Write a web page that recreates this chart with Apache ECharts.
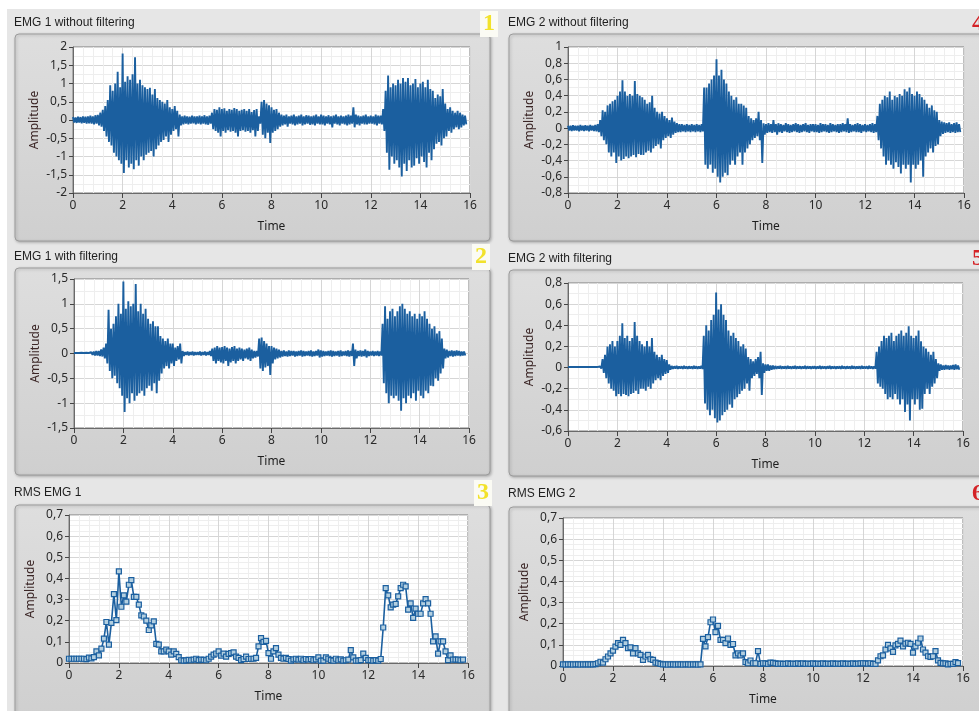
<!DOCTYPE html>
<html>
<head>
<meta charset="utf-8">
<script src="https://cdn.jsdelivr.net/npm/echarts@6/dist/echarts.min.js"></script>
<style>
html,body{margin:0;padding:0;background:#fff;}
#c{width:979px;height:711px;}
</style>
</head>
<body>
<div id="c"></div>
<script>
// ---- Data (sampled every 0.1 s, t = 0 .. 15.8 s) ----
const SAMPLE_STEP = 0.1;
const xTicks = [0, 2, 4, 6, 8, 10, 12, 14, 16];

// EMG 1 without filtering: upper / lower envelope of the raw trace
const emg1RawHi = [
 0.08,0.07,0.09,0.08,0.1,0.09,0.1,0.12,0.1,0.13,
 0.14,0.2,0.28,0.38,0.55,0.95,0.8,1.0,1.32,0.9,
 1.82,1.05,1.2,1.1,1.25,1.72,1.0,1.1,0.95,0.9,
 0.85,0.88,0.7,0.85,0.6,0.55,0.5,0.45,0.55,0.35,
 0.3,0.38,0.25,0.15,0.1,0.12,0.1,0.09,0.12,0.1,
 0.1,0.12,0.1,0.13,0.1,0.12,0.2,0.3,0.28,0.35,
 0.3,0.32,0.25,0.3,0.28,0.33,0.3,0.25,0.28,0.3,
 0.25,0.3,0.22,0.27,0.3,0.1,0.5,0.55,0.45,0.4,
 0.35,0.28,0.3,0.2,0.15,0.12,0.15,0.1,0.12,0.15,
 0.1,0.12,0.15,0.1,0.13,0.12,0.1,0.12,0.15,0.1,
 0.15,0.12,0.1,0.13,0.1,0.12,0.15,0.1,0.12,0.1,
 0.12,0.15,0.12,0.35,0.15,0.12,0.1,0.12,0.15,0.1,
 0.12,0.1,0.15,0.12,0.12,0.3,0.8,1.22,0.9,1.0,
 0.95,1.1,1.0,1.15,1.05,1.15,0.95,1.0,1.12,0.9,
 1.0,1.05,0.9,1.1,0.85,0.8,0.6,0.7,0.65,0.85,
 0.45,0.3,0.35,0.25,0.2,0.25,0.2,0.15,0.12];
const emg1RawLo = [
 -0.07,-0.08,-0.07,-0.09,-0.08,-0.1,-0.09,-0.1,-0.12,-0.1,
 -0.15,-0.18,-0.3,-0.45,-0.6,-0.7,-0.9,-1.0,-1.1,-1.2,
 -1.45,-1.1,-1.3,-1.2,-1.35,-1.1,-1.25,-1.0,-1.1,-0.95,
 -0.9,-0.85,-1.0,-0.8,-0.7,-0.6,-0.55,-0.45,-0.6,-0.4,
 -0.3,-0.25,-0.45,-0.15,-0.12,-0.1,-0.12,-0.1,-0.09,-0.12,
 -0.1,-0.12,-0.1,-0.12,-0.13,-0.1,-0.25,-0.3,-0.35,-0.45,
 -0.3,-0.35,-0.28,-0.32,-0.3,-0.35,-0.45,-0.3,-0.28,-0.32,
 -0.3,-0.35,-0.28,-0.45,-0.3,-0.1,-0.4,-0.5,-0.35,-0.63,
 -0.35,-0.3,-0.25,-0.18,-0.15,-0.12,-0.18,-0.1,-0.12,-0.15,
 -0.12,-0.1,-0.15,-0.12,-0.1,-0.13,-0.12,-0.15,-0.1,-0.12,
 -0.12,-0.15,-0.1,-0.12,-0.2,-0.1,-0.12,-0.15,-0.1,-0.12,
 -0.15,-0.12,-0.1,-0.2,-0.12,-0.15,-0.1,-0.12,-0.12,-0.1,
 -0.1,-0.12,-0.15,-0.1,-0.12,-0.3,-0.9,-1.36,-1.0,-1.2,
 -1.1,-1.3,-1.55,-1.2,-1.4,-1.1,-1.3,-1.25,-1.05,-1.2,
 -1.0,-1.15,-1.3,-0.9,-1.1,-0.8,-0.65,-0.6,-0.7,-0.5,
 -0.45,-0.3,-0.35,-0.25,-0.2,-0.25,-0.2,-0.15,-0.12];

// EMG 2 without filtering
const emg2RawHi = [
 0.03,0.03,0.035,0.03,0.03,0.04,0.03,0.035,0.03,0.04,
 0.03,0.04,0.05,0.1,0.22,0.2,0.28,0.3,0.33,0.35,
 0.4,0.45,0.59,0.45,0.4,0.42,0.4,0.58,0.42,0.4,
 0.38,0.35,0.3,0.32,0.4,0.25,0.2,0.18,0.2,0.15,
 0.12,0.1,0.13,0.08,0.06,0.05,0.05,0.04,0.05,0.04,
 0.05,0.04,0.05,0.04,0.05,0.5,0.5,0.55,0.6,0.65,
 0.85,0.65,0.72,0.6,0.55,0.45,0.4,0.35,0.38,0.3,
 0.3,0.28,0.25,0.15,0.12,0.1,0.12,0.2,0.1,0.06,
 0.05,0.06,0.05,0.1,0.05,0.06,0.05,0.04,0.06,0.05,
 0.04,0.05,0.06,0.05,0.04,0.05,0.06,0.04,0.05,0.05,
 0.05,0.04,0.06,0.05,0.05,0.04,0.06,0.05,0.04,0.05,
 0.05,0.06,0.05,0.12,0.05,0.04,0.05,0.06,0.05,0.04,
 0.05,0.04,0.05,0.06,0.05,0.15,0.3,0.35,0.4,0.38,
 0.45,0.35,0.4,0.38,0.42,0.4,0.48,0.45,0.5,0.42,
 0.4,0.45,0.42,0.38,0.35,0.3,0.25,0.28,0.22,0.2,
 0.1,0.08,0.07,0.06,0.07,0.05,0.06,0.07,0.05];
const emg2RawLo = [
 -0.03,-0.035,-0.03,-0.03,-0.04,-0.03,-0.035,-0.03,-0.04,-0.03,
 -0.035,-0.04,-0.05,-0.1,-0.15,-0.2,-0.3,-0.35,-0.3,-0.43,
 -0.35,-0.4,-0.38,-0.35,-0.37,-0.35,-0.33,-0.36,-0.32,-0.33,
 -0.33,-0.3,-0.28,-0.3,-0.25,-0.22,-0.2,-0.25,-0.15,-0.12,
 -0.1,-0.12,-0.08,-0.06,-0.05,-0.05,-0.04,-0.05,-0.04,-0.05,
 -0.04,-0.05,-0.04,-0.05,-0.04,-0.45,-0.5,-0.45,-0.55,-0.5,
 -0.6,-0.67,-0.6,-0.55,-0.58,-0.45,-0.4,-0.45,-0.35,-0.3,
 -0.45,-0.3,-0.25,-0.2,-0.15,-0.12,-0.1,-0.15,-0.43,-0.08,
 -0.06,-0.05,-0.06,-0.05,-0.08,-0.05,-0.06,-0.04,-0.05,-0.06,
 -0.05,-0.04,-0.05,-0.06,-0.05,-0.04,-0.05,-0.06,-0.04,-0.05,
 -0.05,-0.06,-0.05,-0.04,-0.05,-0.06,-0.05,-0.04,-0.05,-0.06,
 -0.05,-0.04,-0.05,-0.06,-0.05,-0.04,-0.05,-0.05,-0.06,-0.04,
 -0.05,-0.04,-0.05,-0.06,-0.05,-0.15,-0.25,-0.35,-0.45,-0.4,
 -0.45,-0.5,-0.42,-0.48,-0.56,-0.45,-0.5,-0.45,-0.67,-0.45,
 -0.5,-0.45,-0.4,-0.6,-0.35,-0.3,-0.25,-0.3,-0.22,-0.2,
 -0.1,-0.07,-0.06,-0.05,-0.06,-0.05,-0.06,-0.05,-0.05];

// EMG 1 with filtering
const emg1FiltHi = [
 0.01,0.01,0.01,0.015,0.01,0.015,0.01,0.03,0.04,0.05,
 0.05,0.08,0.12,0.2,0.88,0.5,0.6,0.75,1.0,0.8,
 1.45,0.9,1.05,0.95,1.0,1.4,0.85,1.0,0.8,0.9,
 0.7,0.6,0.65,0.55,0.55,0.35,0.3,0.25,0.3,0.2,
 0.2,0.12,0.15,0.2,0.05,0.03,0.04,0.03,0.04,0.03,
 0.03,0.04,0.03,0.04,0.03,0.05,0.1,0.12,0.15,0.12,
 0.13,0.15,0.12,0.1,0.13,0.15,0.1,0.12,0.1,0.08,
 0.1,0.12,0.08,0.05,0.05,0.3,0.32,0.25,0.2,0.15,
 0.15,0.12,0.1,0.08,0.05,0.06,0.04,0.06,0.05,0.05,
 0.04,0.05,0.06,0.05,0.04,0.05,0.06,0.04,0.05,0.08,
 0.06,0.05,0.04,0.05,0.06,0.05,0.04,0.05,0.06,0.04,
 0.05,0.06,0.05,0.2,0.08,0.05,0.06,0.05,0.08,0.05,
 0.04,0.05,0.04,0.05,0.04,0.6,0.95,0.7,0.85,0.9,
 0.75,0.85,0.95,1.0,0.9,0.8,0.85,0.75,0.8,0.7,
 0.8,0.75,0.85,0.7,0.6,0.5,0.55,0.4,0.45,0.3,
 0.1,0.08,0.05,0.06,0.05,0.06,0.05,0.04,0.04];
const emg1FiltLo = [
 -0.01,-0.01,-0.015,-0.01,-0.01,-0.01,-0.015,-0.03,-0.04,-0.04,
 -0.05,-0.06,-0.1,-0.2,-0.35,-0.5,-0.45,-0.6,-0.7,-0.85,
 -1.18,-0.9,-1.0,-0.8,-0.95,-0.85,-0.8,-0.75,-0.85,-0.7,
 -0.65,-0.75,-0.6,-0.8,-0.55,-0.4,-0.3,-0.25,-0.3,-0.2,
 -0.25,-0.15,-0.12,-0.2,-0.05,-0.03,-0.04,-0.03,-0.04,-0.03,
 -0.03,-0.04,-0.03,-0.04,-0.03,-0.05,-0.15,-0.2,-0.15,-0.18,
 -0.2,-0.15,-0.25,-0.18,-0.15,-0.2,-0.15,-0.12,-0.15,-0.1,
 -0.12,-0.15,-0.1,-0.08,-0.06,-0.3,-0.35,-0.28,-0.25,-0.43,
 -0.2,-0.12,-0.1,-0.08,-0.06,-0.05,-0.06,-0.05,-0.04,-0.06,
 -0.05,-0.04,-0.06,-0.05,-0.04,-0.05,-0.06,-0.05,-0.04,-0.08,
 -0.06,-0.05,-0.04,-0.05,-0.06,-0.05,-0.04,-0.06,-0.05,-0.04,
 -0.05,-0.06,-0.05,-0.25,-0.1,-0.05,-0.06,-0.05,-0.08,-0.05,
 -0.04,-0.05,-0.04,-0.05,-0.04,-0.6,-0.8,-1.0,-0.85,-0.9,
 -0.85,-0.95,-1.15,-0.9,-1.0,-0.85,-0.9,-0.8,-0.95,-0.75,
 -0.85,-0.9,-0.75,-0.8,-0.65,-0.66,-0.5,-0.55,-0.4,-0.3,
 -0.1,-0.08,-0.05,-0.06,-0.05,-0.04,-0.05,-0.04,-0.04];

// EMG 2 with filtering
const emg2FiltHi = [
 0.005,0.006,0.005,0.005,0.006,0.005,0.005,0.006,0.005,0.005,
 0.005,0.006,0.006,0.01,0.08,0.12,0.2,0.22,0.25,0.2,
 0.25,0.3,0.42,0.28,0.3,0.25,0.28,0.43,0.3,0.25,
 0.22,0.2,0.25,0.2,0.28,0.15,0.12,0.1,0.12,0.08,
 0.07,0.03,0.015,0.012,0.015,0.01,0.012,0.015,0.01,0.012,
 0.01,0.015,0.012,0.01,0.015,0.3,0.4,0.35,0.45,0.5,
 0.71,0.55,0.6,0.5,0.45,0.35,0.3,0.33,0.28,0.25,
 0.2,0.22,0.18,0.1,0.08,0.06,0.08,0.1,0.15,0.04,
 0.03,0.03,0.02,0.02,0.015,0.012,0.015,0.01,0.012,0.015,
 0.01,0.012,0.015,0.01,0.012,0.01,0.015,0.012,0.01,0.012,
 0.012,0.01,0.015,0.012,0.01,0.012,0.015,0.01,0.012,0.01,
 0.012,0.015,0.01,0.012,0.01,0.015,0.012,0.01,0.012,0.015,
 0.01,0.012,0.015,0.01,0.012,0.15,0.2,0.25,0.3,0.28,
 0.3,0.33,0.25,0.3,0.32,0.35,0.3,0.33,0.39,0.3,
 0.28,0.3,0.35,0.25,0.2,0.18,0.15,0.12,0.15,0.08,
 0.04,0.03,0.02,0.025,0.02,0.02,0.025,0.03,0.02];
const emg2FiltLo = [
 -0.005,-0.005,-0.006,-0.005,-0.005,-0.006,-0.005,-0.005,-0.006,-0.005,
 -0.005,-0.006,-0.005,-0.01,-0.05,-0.1,-0.15,-0.2,-0.22,-0.27,
 -0.25,-0.27,-0.25,-0.26,-0.27,-0.25,-0.24,-0.22,-0.25,-0.2,
 -0.2,-0.22,-0.18,-0.2,-0.15,-0.12,-0.1,-0.12,-0.08,-0.06,
 -0.05,-0.02,-0.012,-0.01,-0.012,-0.01,-0.012,-0.01,-0.012,-0.01,
 -0.012,-0.01,-0.012,-0.01,-0.012,-0.34,-0.4,-0.45,-0.4,-0.48,
 -0.52,-0.5,-0.45,-0.42,-0.4,-0.35,-0.38,-0.3,-0.28,-0.25,
 -0.22,-0.2,-0.15,-0.22,-0.1,-0.08,-0.06,-0.1,-0.26,-0.05,
 -0.03,-0.03,-0.02,-0.015,-0.012,-0.01,-0.012,-0.01,-0.012,-0.01,
 -0.012,-0.01,-0.012,-0.01,-0.012,-0.01,-0.012,-0.01,-0.012,-0.01,
 -0.012,-0.01,-0.012,-0.01,-0.012,-0.01,-0.012,-0.01,-0.012,-0.01,
 -0.012,-0.01,-0.012,-0.01,-0.012,-0.01,-0.012,-0.01,-0.012,-0.01,
 -0.01,-0.012,-0.01,-0.012,-0.01,-0.15,-0.18,-0.2,-0.25,-0.3,
 -0.28,-0.3,-0.25,-0.3,-0.35,-0.3,-0.42,-0.35,-0.5,-0.3,
 -0.35,-0.3,-0.4,-0.39,-0.25,-0.2,-0.25,-0.18,-0.15,-0.1,
 -0.03,-0.02,-0.02,-0.015,-0.02,-0.015,-0.02,-0.015,-0.02];

// RMS EMG 1
const rms1 = [
 0.02,0.02,0.02,0.02,0.02,0.02,0.02,0.018,0.025,0.022,
 0.028,0.055,0.036,0.068,0.115,0.194,0.087,0.19,0.326,0.203,
 0.433,0.266,0.32,0.29,0.37,0.392,0.313,0.313,0.276,0.225,
 0.22,0.2,0.156,0.178,0.197,0.09,0.087,0.055,0.055,0.063,
 0.055,0.04,0.055,0.043,0.028,0.013,0.011,0.012,0.015,0.013,
 0.016,0.02,0.014,0.016,0.015,0.013,0.02,0.03,0.04,0.045,
 0.055,0.035,0.044,0.03,0.043,0.047,0.05,0.03,0.024,0.014,
 0.019,0.03,0.019,0.02,0.02,0.024,0.079,0.118,0.1,0.105,
 0.047,0.02,0.055,0.07,0.04,0.024,0.02,0.024,0.019,0.011,
 0.017,0.02,0.016,0.02,0.013,0.019,0.016,0.019,0.013,0.017,
 0.027,0.011,0.011,0.027,0.02,0.014,0.011,0.02,0.013,0.017,
 0.011,0.013,0.016,0.061,0.027,0.011,0.011,0.014,0.044,0.024,
 0.014,0.014,0.011,0.014,0.011,0.019,0.168,0.354,0.32,0.263,
 0.276,0.28,0.315,0.354,0.37,0.362,0.252,0.282,0.213,0.257,
 0.233,0.233,0.282,0.302,0.282,0.233,0.102,0.126,0.044,0.102,
 0.102,0.055,0.014,0.036,0.016,0.016,0.016,0.013,0.016];

// RMS EMG 2
const rms2 = [
 0.008,0.007,0.008,0.008,0.007,0.008,0.008,0.007,0.008,0.008,
 0.008,0.008,0.008,0.009,0.013,0.02,0.016,0.032,0.045,0.06,
 0.073,0.092,0.108,0.1,0.124,0.108,0.085,0.088,0.06,0.085,
 0.06,0.053,0.029,0.045,0.053,0.032,0.029,0.016,0.013,0.01,
 0.008,0.008,0.007,0.008,0.008,0.007,0.008,0.008,0.007,0.008,
 0.008,0.007,0.008,0.008,0.007,0.008,0.128,0.093,0.137,0.207,
 0.22,0.16,0.19,0.124,0.124,0.108,0.13,0.1,0.104,0.05,
 0.06,0.05,0.06,0.018,0.013,0.026,0.013,0.013,0.07,0.01,
 0.013,0.012,0.01,0.016,0.015,0.012,0.01,0.011,0.01,0.01,
 0.012,0.01,0.011,0.01,0.012,0.01,0.012,0.01,0.011,0.01,
 0.012,0.01,0.011,0.01,0.012,0.01,0.011,0.01,0.012,0.01,
 0.011,0.01,0.012,0.01,0.011,0.01,0.012,0.01,0.011,0.012,
 0.013,0.012,0.011,0.013,0.01,0.01,0.027,0.046,0.05,0.078,
 0.1,0.083,0.067,0.098,0.105,0.12,0.093,0.106,0.11,0.105,
 0.063,0.093,0.11,0.13,0.078,0.063,0.046,0.043,0.046,0.07,
 0.027,0.015,0.012,0.012,0.008,0.01,0.01,0.018,0.014];

// ---- Build series data ----
function tAt(i) { return Math.round(i * SAMPLE_STEP * 100) / 100; }
function zigzag(hi, lo) {
  const n = Math.min(hi.length, lo.length), out = [];
  for (let i = 0; i < n; i++) {
    out.push([tAt(i), hi[i]]);
    out.push([Math.round((i * SAMPLE_STEP + SAMPLE_STEP / 2) * 100) / 100, lo[i]]);
  }
  return out;
}
function points(v) { return v.map((y, i) => [tAt(i), y]); }

const BLUE = '#1b5f9f';
const FONT = 'Noto Sans';
const panels = [
  { title: 'EMG 1 without filtering', grid: {left: 73, top: 47, width: 397, height: 146}, y: [-2, 2, 0.5], ySplit: 2, data: zigzag(emg1RawHi, emg1RawLo), rms: false },
  { title: 'EMG 2 without filtering', grid: {left: 568, top: 47, width: 396, height: 146}, y: [-0.8, 1, 0.2], ySplit: 2, data: zigzag(emg2RawHi, emg2RawLo), rms: false },
  { title: 'EMG 1 with filtering', grid: {left: 74, top: 279, width: 395, height: 149}, y: [-1.5, 1.5, 0.5], ySplit: 2, data: zigzag(emg1FiltHi, emg1FiltLo), rms: false },
  { title: 'EMG 2 with filtering', grid: {left: 568, top: 283, width: 395, height: 148}, y: [-0.6, 0.8, 0.2], ySplit: 2, data: zigzag(emg2FiltHi, emg2FiltLo), rms: false },
  { title: 'RMS EMG 1', grid: {left: 69, top: 515, width: 399, height: 148}, y: [0, 0.7, 0.1], ySplit: 4, data: points(rms1), rms: true },
  { title: 'RMS EMG 2', grid: {left: 563, top: 518, width: 400, height: 148}, y: [0, 0.7, 0.1], ySplit: 4, data: points(rms2), rms: true }
];
const frames = [
  {x: 15, y: 34, w: 475, h: 207, tx: 14, ty: 23},
  {x: 509, y: 34, w: 480, h: 207, tx: 508, ty: 23},
  {x: 15, y: 268, w: 475, h: 207, tx: 14, ty: 257},
  {x: 509, y: 270, w: 480, h: 206, tx: 508, ty: 259},
  {x: 15, y: 505, w: 475, h: 215, tx: 14, ty: 493},
  {x: 509, y: 507, w: 480, h: 215, tx: 508, ty: 494}
];
const marks = [
  {t: '1', x: 489, y: 24, c: '#f2e22a'}, {t: '2', x: 481, y: 257, c: '#f2e22a'}, {t: '3', x: 483, y: 493, c: '#f2e22a'},
  {t: '4', x: 978, y: 24, c: '#d42226'}, {t: '5', x: 978, y: 259, c: '#d42226'}, {t: '6', x: 978, y: 494, c: '#d42226'}
];

const fmt = v => String(Math.round(v * 100) / 100).replace('.', ',');

const grids = [], xAxes = [], yAxes = [], series = [], graphics = [];
graphics.push({type: 'rect', z: -20, shape: {x: 7, y: 9, width: 980, height: 710}, style: {fill: '#e6e6e6'}});
frames.forEach((f, i) => {
  graphics.push({type: 'rect', z: -10, shape: {x: f.x, y: f.y, width: f.w, height: f.h, r: 4},
    style: {fill: new echarts.graphic.LinearGradient(0, 0, 0, 1, [{offset: 0, color: '#dedede'}, {offset: 1, color: '#cfcfcf'}]),
      stroke: '#9c9c9c', lineWidth: 1, shadowBlur: 3, shadowColor: 'rgba(0,0,0,0.25)', shadowOffsetX: 1, shadowOffsetY: 1}});
  graphics.push({type: 'text', z: 10, x: f.tx, y: f.ty, style: {text: panels[i].title, font: '12px "Liberation Sans"', fill: '#1e1e1e', verticalAlign: 'middle'}});
});
marks.forEach((m, i) => {
  if (i < 3) graphics.push({type: 'rect', z: 5, shape: {x: m.x - 9, y: m.y - 13, width: 18, height: 26}, style: {fill: '#fbfbf4'}});
  graphics.push({type: 'text', z: 10, x: m.x, y: m.y, style: {text: m.t, font: 'bold 24px "Liberation Serif"', fill: m.c, align: 'center', verticalAlign: 'middle'}});
});

panels.forEach((p, i) => {
  grids.push(Object.assign({show: true, backgroundColor: '#ffffff', borderColor: '#7d7d7d', borderWidth: 1}, p.grid));
  xAxes.push({
    type: 'value', gridIndex: i, min: xTicks[0], max: xTicks[xTicks.length - 1], interval: xTicks[1] - xTicks[0],
    name: 'Time', nameLocation: 'middle', nameGap: 28,
    nameTextStyle: {fontFamily: FONT, fontSize: 12, color: '#1e1e1e'},
    axisLine: {show: true, onZero: false, lineStyle: {color: '#6a6a6a'}},
    axisTick: {show: true, length: 5, lineStyle: {color: '#444'}},
    axisLabel: {fontFamily: FONT, fontSize: 12, color: '#2a2a2a', margin: 7},
    splitLine: {show: true, lineStyle: {color: '#d6d6d6', width: 1}},
    minorTick: {show: false, splitNumber: 5},
    minorSplitLine: {show: true, lineStyle: {color: '#eeeeee', width: 1}}
  });
  yAxes.push({
    type: 'value', gridIndex: i, min: p.y[0], max: p.y[1], interval: p.y[2],
    name: 'Amplitude', nameLocation: 'middle', nameGap: 32, nameRotate: 90,
    nameTextStyle: {fontFamily: FONT, fontSize: 12, color: '#3b2626'},
    axisLine: {show: true, onZero: false, lineStyle: {color: '#6a6a6a'}},
    axisTick: {show: true, length: 4, lineStyle: {color: '#444'}},
    axisLabel: {fontFamily: FONT, fontSize: 12, color: '#2a2a2a', margin: 6, formatter: fmt},
    splitLine: {show: true, lineStyle: {color: '#d6d6d6', width: 1}},
    minorTick: {show: false, splitNumber: p.ySplit},
    minorSplitLine: {show: true, lineStyle: {color: '#eeeeee', width: 1}}
  });
  series.push(p.rms ? {
    type: 'line', xAxisIndex: i, yAxisIndex: i, data: p.data, animation: false,
    showSymbol: true, symbol: 'rect', symbolSize: 5,
    lineStyle: {color: BLUE, width: 1.6},
    itemStyle: {color: '#b3cfe0', borderColor: BLUE, borderWidth: 1.2}
  } : {
    type: 'line', xAxisIndex: i, yAxisIndex: i, data: p.data, animation: false,
    showSymbol: false, sampling: null, lineStyle: {color: BLUE, width: 1.9}
  });
});

const chart = echarts.init(document.getElementById('c'), null, {renderer: 'canvas'});
chart.setOption({
  backgroundColor: '#ffffff',
  animation: false,
  grid: grids, xAxis: xAxes, yAxis: yAxes, series: series,
  graphic: {elements: graphics}
});
</script>
</body>
</html>
